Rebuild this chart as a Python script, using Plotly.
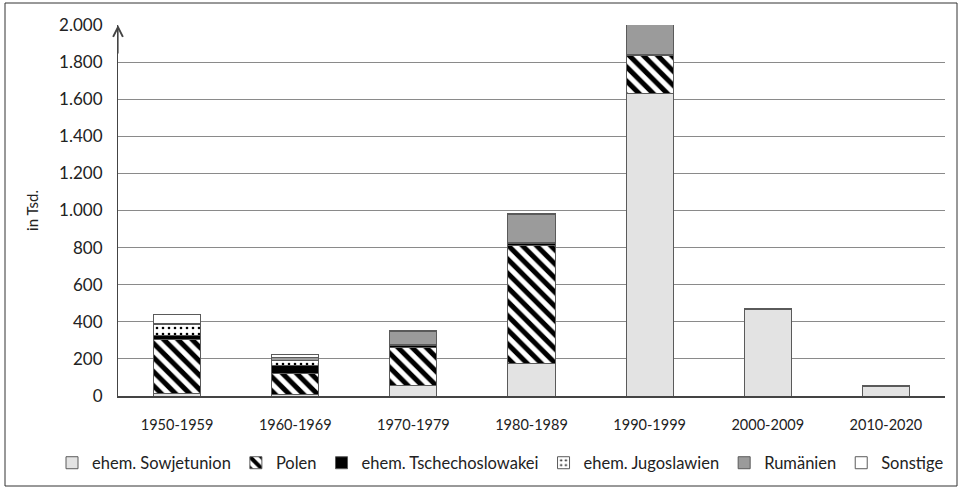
import plotly.graph_objects as go

decades = ["1950-1959", "1960-1969", "1970-1979", "1980-1989", "1990-1999", "2000-2009", "2010-2020"]
sowjetunion = [11, 9, 56, 177, 1631, 469, 53]
polen = [295, 111, 203, 633, 205, 2, 0.5]
tschechoslowakei = [18, 44, 12, 13, 3, 0.3, 0.2]
jugoslawien = [63, 30, 5, 3, 1, 0.3, 0.2]
rumaenien = [3, 16, 74, 151, 186, 1, 0.3]
sonstige = [50, 12, 5, 8, 2, 1, 0.5]

y_ticks = [0, 200, 400, 600, 800, 1000, 1200, 1400, 1600, 1800, 2000]

FONT = "Lato"
EDGE = "#5a5a5a"

series = [
    ("ehem. Sowjetunion", sowjetunion, dict(color="#e3e3e3")),
    ("Polen", polen, dict(color="white", pattern=dict(shape="\\", fgcolor="black", fgopacity=1, bgcolor="white", size=10, solidity=0.5))),
    ("ehem. Tschechoslowakei", tschechoslowakei, dict(color="black")),
    ("ehem. Jugoslawien", jugoslawien, dict(color="white", pattern=dict(shape=".", fgcolor="black", fgopacity=1, bgcolor="white", size=6, solidity=0.15))),
    ("Rumänien", rumaenien, dict(color="#9b9b9b")),
    ("Sonstige", sonstige, dict(color="white")),
]

fig = go.Figure()
for name, vals, mk in series:
    mk = dict(mk)
    mk["line"] = dict(color=EDGE, width=1)
    fig.add_trace(go.Bar(name=name, x=decades, y=vals, marker=mk))

fig.update_layout(
    barmode="stack",
    bargap=0.6,
    width=963, height=489,
    margin=dict(l=118, r=18, t=25, b=93, autoexpand=False),
    paper_bgcolor="white", plot_bgcolor="white",
    separators=",.",
    font=dict(family=FONT, size=15, color="#222222"),
    legend=dict(orientation="h", xref="paper", yref="paper",
                x=(52 - 118) / 827, xanchor="left", y=(396 - 463) / 371, yanchor="middle",
                font=dict(size=16.5), traceorder="normal", itemwidth=30,
                bgcolor="rgba(0,0,0,0)"),
    showlegend=True,
)
fig.update_xaxes(showline=True, linecolor="#444444", linewidth=1.5, ticks="",
                 tickfont=dict(size=14.5), showgrid=False, ticklabelstandoff=15)
fig.update_yaxes(range=[0, 2000], tickvals=y_ticks, tickformat=",d",
                 showgrid=True, gridcolor="#8a8a8a", gridwidth=1,
                 showline=True, linecolor="#444444", linewidth=1.2,
                 ticks="", tickfont=dict(size=17), ticklabelstandoff=11,
                 title=dict(text="in Tsd.", font=dict(size=15), standoff=16),
                 zeroline=False)

# arrow at top of y axis
fig.add_annotation(x=0, xref="paper", y=2000, yref="y", ax=0, ay=30, axref="pixel", ayref="pixel",
                   showarrow=True, arrowhead=5, arrowsize=1.6, arrowwidth=1.2, arrowcolor="#444444", text="")

# outer frame
fig.add_shape(type="rect", xref="paper", yref="paper",
              x0=(5 - 118) / 827, x1=(957 - 118) / 827,
              y0=(396 - 486) / 371, y1=(396 - 3) / 371,
              line=dict(color="#333333", width=1), fillcolor="rgba(0,0,0,0)", layer="below")

fig.write_html("out.html", config={"displayModeBar": False},
               post_script="document.body.style.margin='0';")
